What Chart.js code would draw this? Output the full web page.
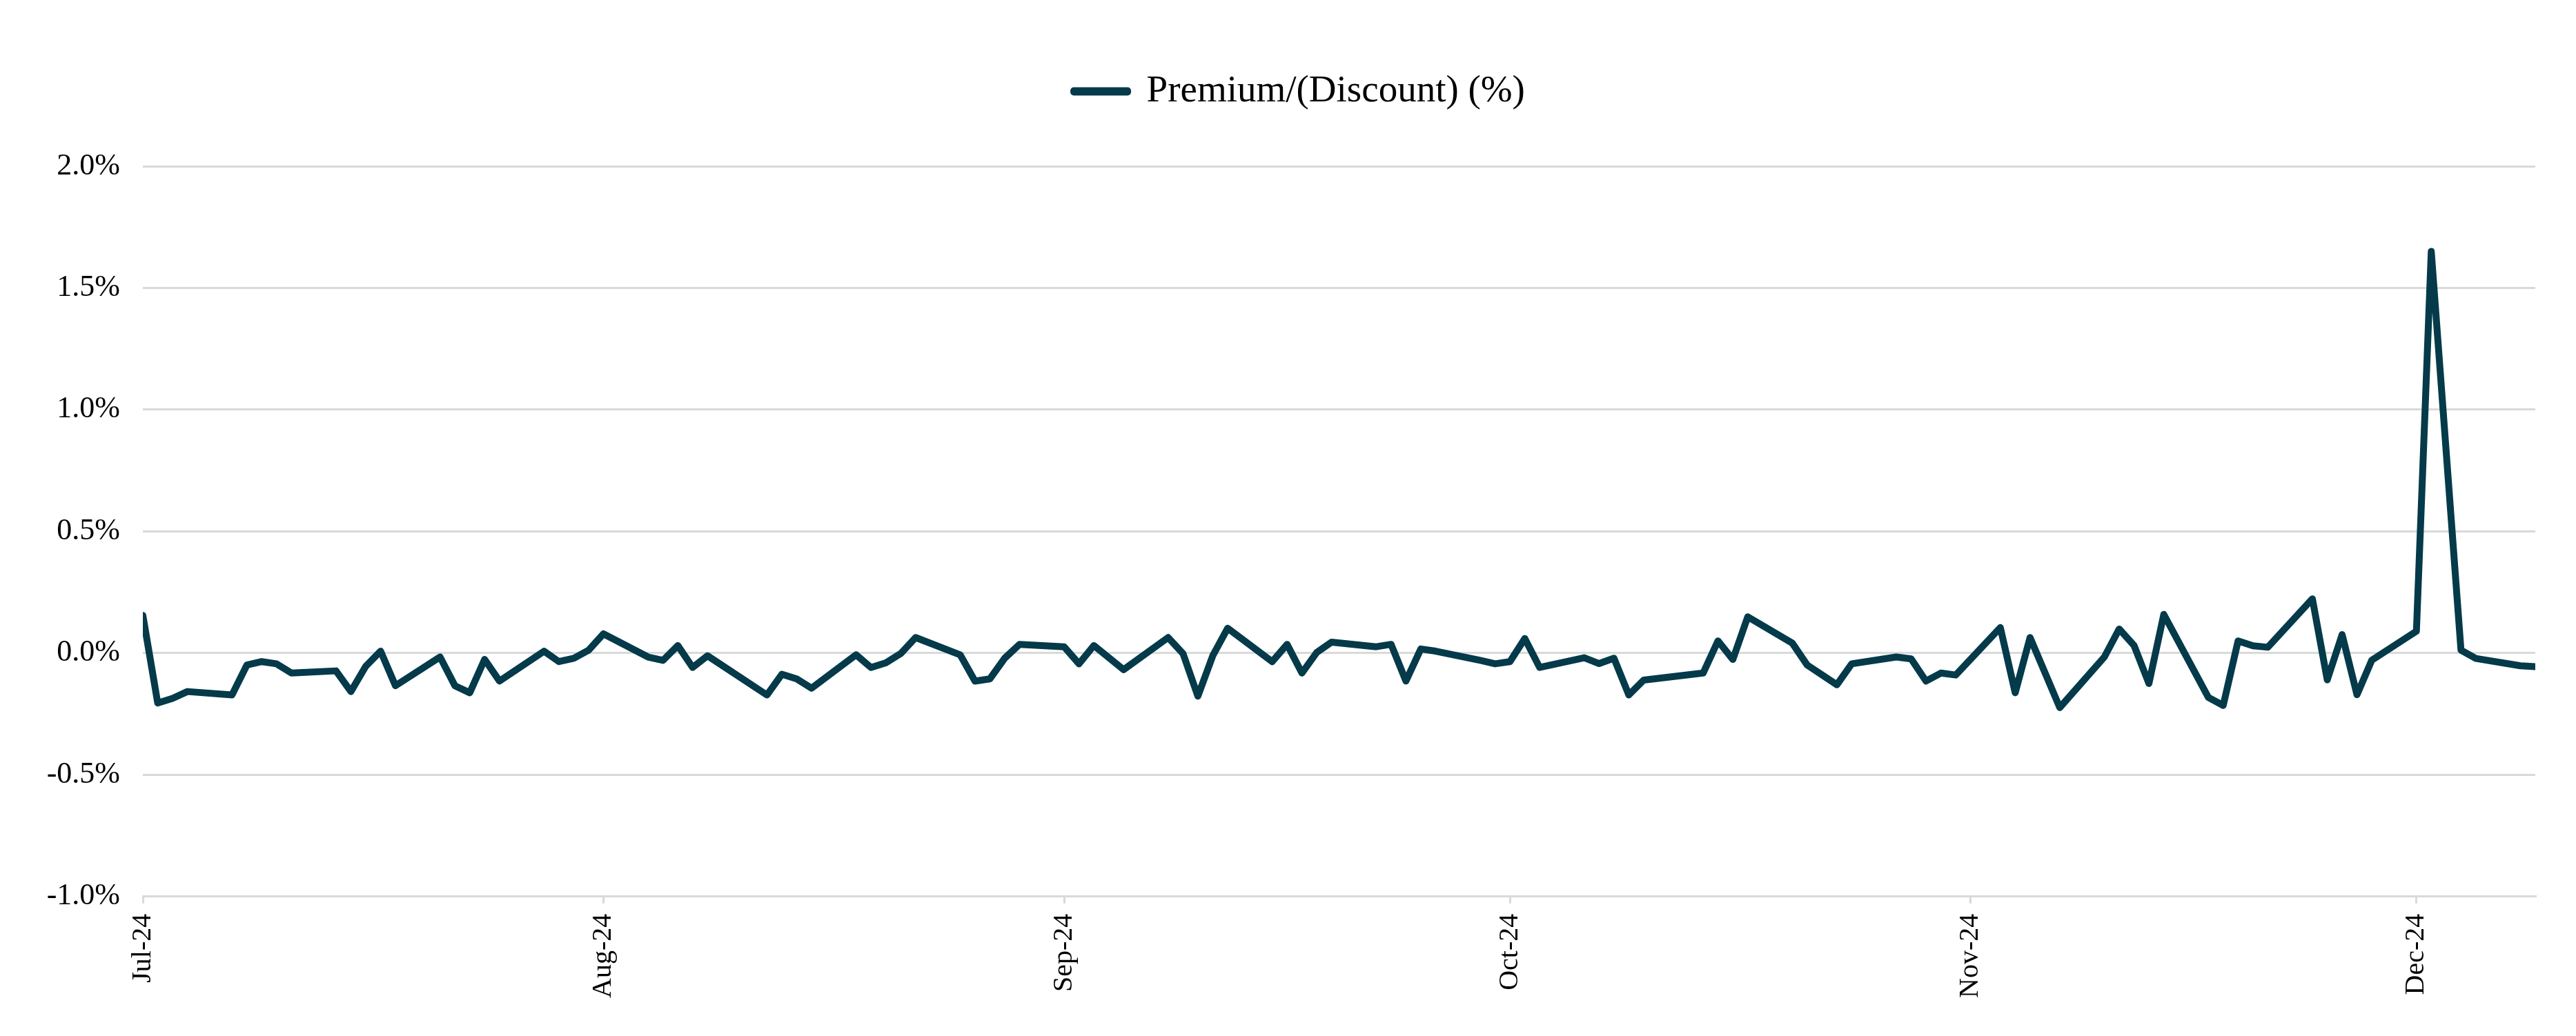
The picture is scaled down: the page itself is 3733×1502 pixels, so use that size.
<!DOCTYPE html>
<html>
<head>
<meta charset="utf-8">
<script src="https://cdn.jsdelivr.net/npm/chart.js@4.4.1/dist/chart.umd.min.js"></script>
<style>
  html, body { margin: 0; padding: 0; background: #fff; }
</style>
</head>
<body>
<canvas id="chart" width="3733" height="1502"></canvas>
<script>
const seriesLabel = 'Premium/(Discount) (%)';

const dates = [
    '2024-07-02', '2024-07-03', '2024-07-04', '2024-07-05', '2024-07-08', '2024-07-09', '2024-07-10', '2024-07-11', '2024-07-12',
    '2024-07-15', '2024-07-16', '2024-07-17', '2024-07-18', '2024-07-19', '2024-07-22', '2024-07-23', '2024-07-24', '2024-07-25',
    '2024-07-26', '2024-07-29', '2024-07-30', '2024-07-31', '2024-08-01', '2024-08-02', '2024-08-05', '2024-08-06', '2024-08-07',
    '2024-08-08', '2024-08-09', '2024-08-13', '2024-08-14', '2024-08-15', '2024-08-16', '2024-08-19', '2024-08-20', '2024-08-21',
    '2024-08-22', '2024-08-23', '2024-08-26', '2024-08-27', '2024-08-28', '2024-08-29', '2024-08-30', '2024-09-02', '2024-09-03',
    '2024-09-04', '2024-09-06', '2024-09-09', '2024-09-10', '2024-09-11', '2024-09-12', '2024-09-13', '2024-09-16', '2024-09-17',
    '2024-09-18', '2024-09-19', '2024-09-20', '2024-09-23', '2024-09-24', '2024-09-25', '2024-09-26', '2024-09-27', '2024-09-30',
    '2024-10-01', '2024-10-02', '2024-10-03', '2024-10-04', '2024-10-07', '2024-10-08', '2024-10-09', '2024-10-10', '2024-10-11',
    '2024-10-15', '2024-10-16', '2024-10-17', '2024-10-18', '2024-10-21', '2024-10-22', '2024-10-24', '2024-10-25', '2024-10-28',
    '2024-10-29', '2024-10-30', '2024-10-31', '2024-11-01', '2024-11-04', '2024-11-05', '2024-11-06', '2024-11-08', '2024-11-11',
    '2024-11-12', '2024-11-13', '2024-11-14', '2024-11-15', '2024-11-18', '2024-11-19', '2024-11-20', '2024-11-21', '2024-11-22',
    '2024-11-25', '2024-11-26', '2024-11-27', '2024-11-28', '2024-11-29', '2024-12-02', '2024-12-03', '2024-12-05', '2024-12-06',
    '2024-12-09', '2024-12-10'
];

const premium = [
    0.155, -0.205, -0.186, -0.158, -0.172, -0.049, -0.035, -0.044, -0.082,
    -0.073, -0.158, -0.054, 0.008, -0.134, -0.016, -0.134, -0.163, -0.026,
    -0.115, 0.008, -0.035, -0.021, 0.012, 0.079, -0.016, -0.030, 0.031,
    -0.059, -0.011, -0.172, -0.087, -0.106, -0.144, -0.007, -0.059, -0.040,
    -0.002, 0.064, -0.007, -0.115, -0.106, -0.021, 0.036, 0.026, -0.044,
    0.031, -0.068, 0.064, -0.002, -0.177, -0.011, 0.102, -0.035, 0.036,
    -0.082, 0.003, 0.045, 0.026, 0.036, -0.115, 0.017, 0.008, -0.030,
    -0.044, -0.035, 0.060, -0.059, -0.019, -0.043, -0.021, -0.172, -0.111,
    -0.082, 0.050, -0.026, 0.149, 0.041, -0.049, -0.130, -0.044, -0.016,
    -0.024, -0.115, -0.082, -0.090, 0.105, -0.163, 0.064, -0.224, -0.016,
    0.099, 0.031, -0.125, 0.159, -0.182, -0.215, 0.050, 0.030, 0.024,
    0.223, -0.110, 0.076, -0.171, -0.029, 0.090, 1.650, 0.012, -0.022,
    -0.052, -0.056
];

const tickDates = ['2024-07-02', '2024-08-02', '2024-09-02', '2024-10-02', '2024-11-02', '2024-12-02'];
const tickLabels = ['Jul-24', 'Aug-24', 'Sep-24', 'Oct-24', 'Nov-24', 'Dec-24'];

const yTicks = { min: -1, max: 2, step: 0.5 };

const lineColor = '#043a4a';
const gridColor = '#d9d9d9';
const fontFamily = '"Liberation Serif", "Times New Roman", serif';

// day offsets from the first date, so the x axis is a real time scale
const startMs = Date.parse(dates[0] + 'T00:00:00Z');
const toDay = d => Math.round((Date.parse(d + 'T00:00:00Z') - startMs) / 86400000);

const points = dates.map((d, i) => ({ x: toDay(d), y: premium[i] }));
const tickDays = tickDates.map(toDay);
const lastDay = toDay(dates[dates.length - 1]);

// extra room under the legend, and centre it a bit right like the original
const legendSpacing = {
    id: 'legendSpacing',
    beforeInit(chart) {
        const fit = chart.legend.fit;
        chart.legend.fit = function () {
            fit.call(this);
            this.height += 71;
        };
    },
    afterLayout(chart) {
        chart.legend.left = 92;
    }
};

Chart.defaults.font.family = fontFamily;
Chart.defaults.color = '#000';

new Chart(document.getElementById('chart'), {
    type: 'line',
    data: {
        datasets: [{
            label: seriesLabel,
            data: points,
            borderColor: lineColor,
            backgroundColor: lineColor,
            borderWidth: 10,
            borderJoinStyle: 'round',
            borderCapStyle: 'round',
            pointRadius: 0,
            tension: 0
        }]
    },
    options: {
        responsive: false,
        animation: false,
        layout: { padding: { top: 29, right: 59, bottom: 40, left: 0 } },
        plugins: {
            legend: {
                position: 'top',
                labels: {
                    font: { size: 55 },
                    color: '#000',
                    boxWidth: 78,
                    boxHeight: 2,
                    padding: 76
                }
            },
            tooltip: { enabled: false }
        },
        scales: {
            x: {
                type: 'linear',
                min: 0,
                max: lastDay,
                afterBuildTicks: scale => {
                    scale.ticks = tickDays.map(v => ({ value: v }));
                },
                ticks: {
                    autoSkip: false,
                    minRotation: 90,
                    maxRotation: 90,
                    padding: 15,
                    font: { size: 40 },
                    color: '#000',
                    callback: v => {
                        const i = tickDays.indexOf(v);
                        return i >= 0 ? tickLabels[i] : '';
                    }
                },
                grid: { drawOnChartArea: false, drawTicks: true, tickLength: 10, color: gridColor, lineWidth: 3 },
                border: { display: true, color: gridColor, width: 3 }
            },
            y: {
                min: yTicks.min,
                max: yTicks.max,
                afterFit: scale => { scale.width = 207; },
                ticks: {
                    stepSize: yTicks.step,
                    padding: 33,
                    font: { size: 44 },
                    color: '#000',
                    callback: v => v.toFixed(1) + '%'
                },
                grid: { color: gridColor, lineWidth: 3, drawTicks: false },
                border: { display: false }
            }
        }
    },
    plugins: [legendSpacing]
});
</script>
</body>
</html>
